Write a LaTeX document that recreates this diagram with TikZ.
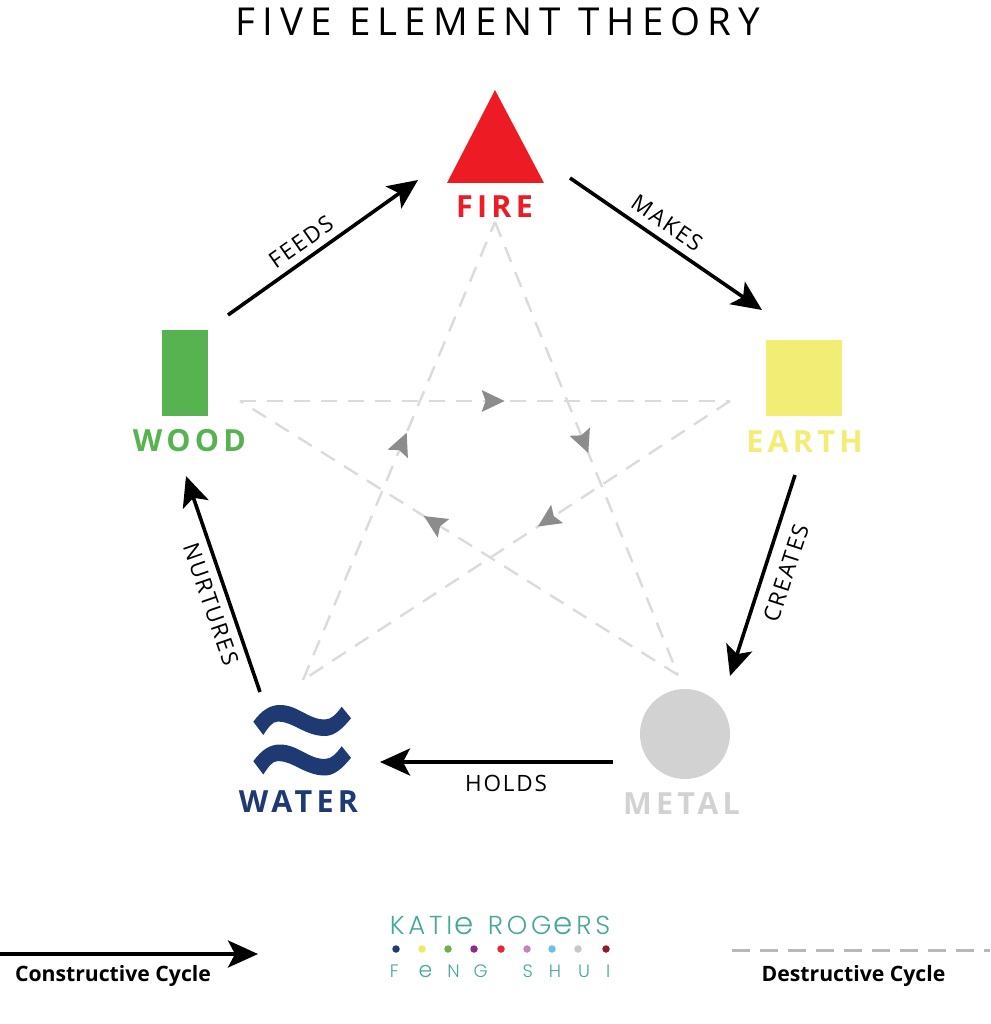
\documentclass[tikz,border=0pt]{standalone}
\usepackage{fontspec}
\setmainfont{Open Sans}
\newfontfamily\titlefont[LetterSpace=18.5]{Open Sans}
\newfontfamily\elemfont[LetterSpace=14,BoldFont={Open Sans Bold}]{Open Sans}
\newfontfamily\cyclefont[LetterSpace=8]{Open Sans}
\newfontfamily\logofont[LetterSpace=14.5]{Poppins Light}
\newfontfamily\logosmall{Poppins Light}
\newcommand{\bigeA}{\kern2pt{\fontsize{31}{31}\selectfont e}\kern3.5pt}
\newcommand{\bigeB}{{\fontsize{22}{22}\selectfont e}}
\usetikzlibrary{arrows.meta,decorations.markings}
\definecolor{firecol}{HTML}{ED1C24}
\definecolor{woodcol}{HTML}{56B34F}
\definecolor{earthcol}{HTML}{F2EE75}
\definecolor{metalcol}{HTML}{D2D2D2}
\definecolor{watercol}{HTML}{1F3A73}
\definecolor{tealcol}{HTML}{45A89B}
\tikzset{
  elemlabel/.style={font=\elemfont\fontsize{30.5}{32}\selectfont\bfseries,inner sep=0pt},
  cyclelabel/.style={font=\cyclefont\fontsize{22.5}{24}\selectfont,inner sep=0pt},
  legendlabel/.style={font=\fontsize{21.2}{23}\selectfont\bfseries,inner sep=0pt},
  constructive/.style={line width=3.6pt,-{Stealth[length=30pt,width=27pt,inset=7pt]}},
  destructive/.style={draw=black!14,line width=2.4pt,dash pattern=on 16pt off 11pt,
    postaction={decorate},
    decoration={markings,mark=at position #1 with {\arrow[draw=black!45,fill=black!45,line width=0pt]{Stealth[length=23pt,width=22pt,inset=4pt]}}}},
  logodot/.style={circle,inner sep=0pt,minimum size=7.5pt},
}
\begin{document}
\begin{tikzpicture}[x=1pt,y=-1pt]
\useasboundingbox (0,0) rectangle (990,1024);
\node[font=\titlefont\fontsize{38.5}{42}\selectfont,inner sep=0pt] (title) at (498,22) {FIVE ELEMENT THEORY};

% element symbols
\fill[firecol] (495,90) -- (544,183) -- (447,183) -- cycle;
\node[fill=woodcol,minimum width=46pt,minimum height=86pt,inner sep=0pt] (woodsym) at (185,373) {};
\node[fill=earthcol,minimum width=76pt,minimum height=76pt,inner sep=0pt] (earthsym) at (804,378) {};
\node[circle,fill=metalcol,minimum size=90pt,inner sep=0pt] (metalsym) at (685,734) {};
\foreach \dy in {0,39.5}{
  \fill[watercol,shift={(0,\dy)}] (253.3,721.7) .. controls (262,710) and (270,705) .. (280,705)
    .. controls (298,705) and (308,719.5) .. (325,719.5)
    .. controls (332,719.5) and (337,713) .. (341.7,706.7) -- (351,718.3)
    .. controls (343,728) and (335,736) .. (325,736)
    .. controls (305,736) and (293,721.5) .. (278,721.5)
    .. controls (272,721.5) and (268,728) .. (263.3,735) -- cycle;
}

% element labels
\node[elemlabel,text=firecol] (fire) at (494.5,207) {FIRE};
\node[elemlabel,text=woodcol] (wood) at (189.5,441) {WOOD};
\node[elemlabel,text=earthcol] (earth) at (804.5,442) {EARTH};
\node[elemlabel,text=metalcol] (metal) at (681.5,804) {METAL};
\node[elemlabel,text=watercol] (water) at (298.5,801.5) {WATER};

% constructive cycle
\coordinate (woodout) at (228,315);
\coordinate (firein) at (418,180);
\coordinate (fireout) at (570,178);
\coordinate (earthin) at (762,310);
\coordinate (earthout) at (795,475);
\coordinate (metalin) at (730,676);
\coordinate (metalout) at (613,762);
\coordinate (waterin) at (380,762);
\coordinate (waterout) at (260,692);
\coordinate (woodin) at (186,476);
\draw[constructive] (woodout) -- (firein);
\draw[constructive] (fireout) -- (earthin);
\draw[constructive] (earthout) -- (metalin);
\draw[constructive] (metalout) -- (waterin);
\draw[constructive] (waterout) -- (woodin);
\node[cyclelabel,rotate=35] (feeds) at (301,242) {FEEDS};
\node[cyclelabel,rotate=-34.5] (makes) at (667,223) {MAKES};
\node[cyclelabel,rotate=72] (creates) at (786,573) {CREATES};
\node[cyclelabel] (holds) at (506,783) {HOLDS};
\node[cyclelabel,rotate=-71] (nurtures) at (211,604) {NURTURES};

% destructive cycle
\coordinate (sfire) at (495,222);
\coordinate (searth) at (730,401);
\coordinate (smetal) at (678,675);
\coordinate (swater) at (303,680);
\coordinate (swood) at (240,401);
\draw[destructive=0.54] (swood) -- (searth);
\draw[destructive=0.45] (searth) -- (swater);
\draw[destructive=0.54] (swater) -- (sfire);
\draw[destructive=0.51] (sfire) -- (smetal);
\draw[destructive=0.58] (smetal) -- (swood);

% legend
\coordinate (lca) at (0,954);
\coordinate (lcb) at (258,954);
\coordinate (lda) at (732,950);
\coordinate (ldb) at (990,950);
\draw[constructive] (lca) -- (lcb);
\draw[draw=black!28,line width=3pt,dash pattern=on 18pt off 10pt] (lda) -- (ldb);
\node[legendlabel] (ctext) at (113,975.5) {Constructive Cycle};
\node[legendlabel] (dtext) at (853.5,975.5) {Destructive Cycle};

% logo
\node[font=\logofont\fontsize{26}{28}\selectfont,text=tealcol,inner sep=0pt] (logoa) at (500,925) {KATI\bigeA{} ROG\bigeA{}RS};
\node[font=\logosmall\fontsize{18}{20}\selectfont,text=tealcol,inner sep=0pt] (logob) at (500,971) {F\kern20pt\bigeB\kern15pt N\kern14pt G\kern30pt{} S\kern16pt H\kern17pt U\kern16pt I};
\foreach \px/\pc [count=\i] in {396/1F3A73,422/EFE96A,448/6FB04A,474/8E2A8E,501/E0283C,527/C486B8,552/6CC0E8,578/C8C8CA,606/8E1C2C}{
  \definecolor{dotc}{HTML}{\pc}
  \node[logodot,fill=dotc] (dot\i) at (\px,949) {};
}
\end{tikzpicture}
\end{document}
